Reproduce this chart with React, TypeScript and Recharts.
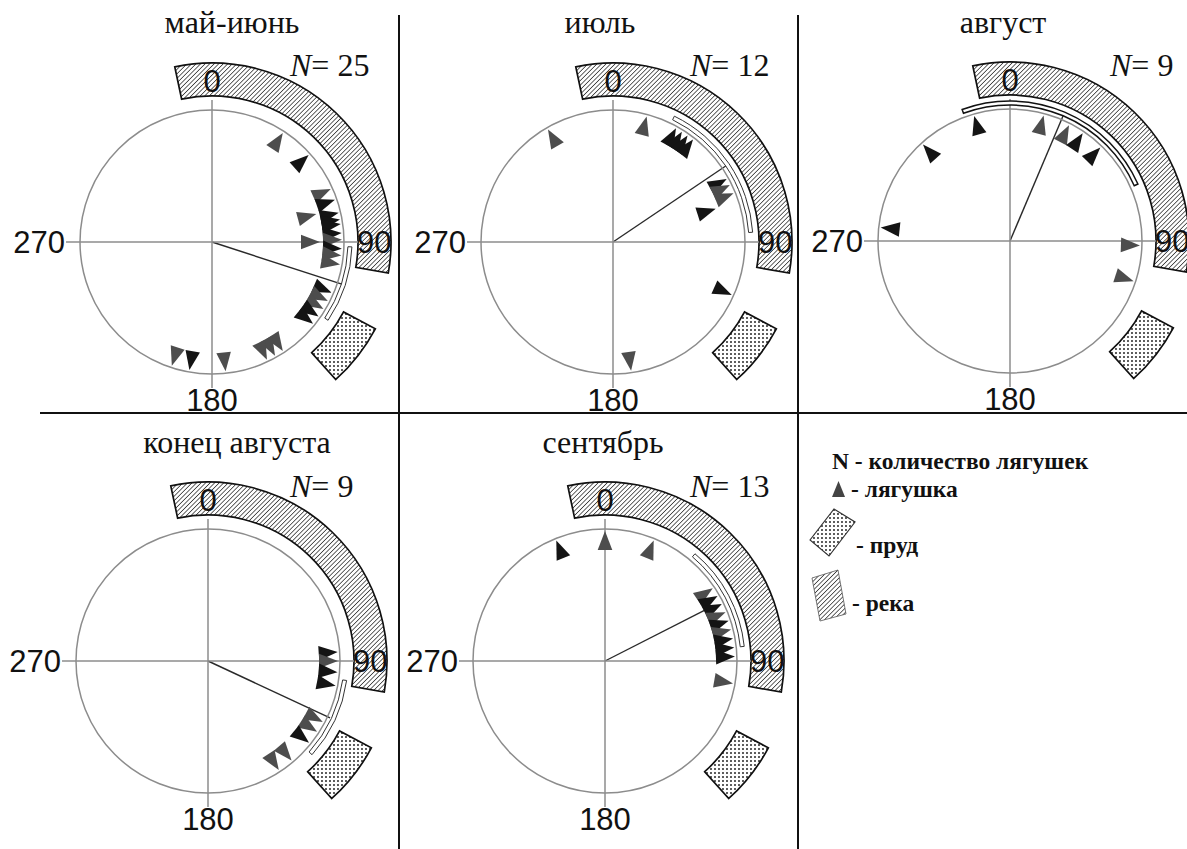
import React from 'react';
import { ScatterChart, Scatter, XAxis, YAxis, ReferenceLine, Sector } from 'recharts';

// ---------- data ----------
const panelTitles = ['май-июнь', 'июль', 'август', 'конец августа', 'сентябрь'];
const frogCounts = [25, 12, 9, 9, 13];
const tickLabels = ['0', '90', '180', '270'];
const tickAngles = [0, 90, 180, 270];

// bearings of frogs (degrees, clockwise from 0), shade g = grey, k = black, row = stacking row
const mayJuneAngles = [33, 48, 66, 71, 75, 77, 80, 82, 86, 89, 90, 93, 96, 100, 113, 117, 121, 125, 129, 147, 151, 155, 174, 190, 198];
const mayJuneShades = ['g', 'k', 'g', 'k', 'g', 'k', 'k', 'k', 'k', 'g', 'g', 'k', 'g', 'g', 'k', 'g', 'g', 'k', 'k', 'g', 'g', 'g', 'g', 'k', 'g'];
const mayJuneRows = [0, 0, 0, 0, 1, 0, 0, 0, 0, 0, 1, 0, 0, 0, 0, 0, 0, 0, 0, 0, 0, 0, 0, 0, 0];

const julyAngles = [330, 15, 29, 32, 35, 38, 61, 64, 68, 72, 114, 172];
const julyShades = ['g', 'g', 'k', 'k', 'k', 'k', 'k', 'g', 'g', 'k', 'k', 'g'];
const julyRows = [0, 0, 0, 0, 0, 0, 0, 0, 0, 1, 0, 0];

const augustAngles = [276, 318, 344, 15, 27, 34, 44, 92, 108];
const augustShades = ['k', 'k', 'k', 'g', 'g', 'k', 'k', 'g', 'g'];
const augustRows = [0, 0, 0, 0, 0, 0, 0, 0, 0];

const lateAugustAngles = [86, 90, 95, 101, 118, 123, 129, 140, 147];
const lateAugustShades = ['k', 'g', 'k', 'k', 'g', 'g', 'k', 'g', 'g'];
const lateAugustRows = [0, 0, 0, 0, 0, 0, 0, 0, 0];

const septemberAngles = [338, 0, 22, 56, 60, 64, 68, 72, 76, 80, 84, 88, 100];
const septemberShades = ['k', 'g', 'g', 'g', 'k', 'k', 'g', 'k', 'g', 'k', 'k', 'k', 'g'];
const septemberRows = [0, 0, 0, 0, 0, 0, 0, 0, 0, 0, 0, 0, 0];

// mean vector direction and length (fraction of circle radius)
const meanAngles = [108, 56, 23, 115, 63];
const meanLengths = [1.04, 1.04, 1.03, 1.02, 0.87];
// confidence interval arcs (degrees)
const ciStart = [92, 26, -20, 98, 40];
const ciEnd = [124, 86, 66, 132, 84];
// river and pond bearings (degrees)
const riverFrom = -12;
const riverTo = 100;
const pondFrom = 118;
const pondTo = 138;

// ---------- layout ----------
const R = 132;
const W = 440;
const H = 420;
const panelCenters = [
  [212, 242],
  [613, 242],
  [1010, 241],
  [208, 661],
  [605, 661],
];
const titleX = [232, 600, 1003, 237, 603];
const nX = [290, 690, 1110, 290, 690];

const rad = (d: number) => (d * Math.PI) / 180;

const frogSets = [
  [mayJuneAngles, mayJuneShades, mayJuneRows],
  [julyAngles, julyShades, julyRows],
  [augustAngles, augustShades, augustRows],
  [lateAugustAngles, lateAugustShades, lateAugustRows],
  [septemberAngles, septemberShades, septemberRows],
] as const;

const toPoints = (angles: readonly number[], shades: readonly string[], rows: readonly number[]) =>
  angles.map((a, i) => ({
    x: R * Math.sin(rad(a)),
    y: R * Math.cos(rad(a)),
    angle: a,
    shade: shades[i],
    row: rows[i],
  }));

const FrogShape = (props: any) => {
  const { cx, cy, payload } = props;
  const inset = payload.row * 22;
  const fill = payload.shade === 'k' ? '#141414' : '#4d4d4d';
  return (
    <path
      transform={`translate(${cx},${cy}) rotate(${payload.angle})`}
      d={`M0,${2 + inset} L7.3,${21 + inset} L-7.3,${21 + inset} Z`}
      fill={fill}
    />
  );
};

const TickShape = (props: any) => {
  const { cx, cy, payload } = props;
  let anchor: 'middle' | 'start' | 'end' = 'middle';
  let x = cx;
  let y = cy;
  if (payload.angle === 0) {
    y = cy - 3;
  } else if (payload.angle === 180) {
    y = cy + 22;
  } else if (payload.angle === 90) {
    anchor = 'start';
    x = cx - 2;
    y = cy + 11;
  } else {
    anchor = 'end';
    y = cy + 11;
  }
  return (
    <text x={x} y={y} textAnchor={anchor} fontFamily="'Liberation Sans', Arial, sans-serif" fontSize={31} fill="#111">
      {payload.label}
    </text>
  );
};

const cmp = (deg: number) => 90 - deg; // compass bearing -> recharts polar angle

function Panel({ idx }: { idx: number }) {
  const [pcx, pcy] = panelCenters[idx];
  const [angles, shades, rows] = frogSets[idx];
  const frogs = toPoints(angles, shades, rows);
  const center = [{ x: 0, y: 0 }];
  const ticks = tickAngles.map((a, i) => ({
    x: 147 * Math.sin(rad(a)),
    y: 147 * Math.cos(rad(a)),
    angle: a,
    label: tickLabels[i],
  }));
  const mLen = meanLengths[idx] * R;
  const mA = rad(meanAngles[idx]);

  const Background = (p: any) => (
    <g>
      <Sector
        cx={p.cx}
        cy={p.cy}
        innerRadius={146}
        outerRadius={179}
        startAngle={cmp(riverFrom)}
        endAngle={cmp(riverTo)}
        fill="url(#riverHatch)"
        stroke="#111"
        strokeWidth={1.7}
      />
      <Sector
        cx={p.cx}
        cy={p.cy}
        innerRadius={149}
        outerRadius={185}
        startAngle={cmp(pondFrom)}
        endAngle={cmp(pondTo)}
        fill="url(#pondDots)"
        stroke="#111"
        strokeWidth={1.7}
      />
      <circle cx={p.cx} cy={p.cy} r={R} fill="none" stroke="#8c8c8c" strokeWidth={1.5} />
      <line x1={p.cx - 146} y1={p.cy} x2={p.cx + 146} y2={p.cy} stroke="#8c8c8c" strokeWidth={1.5} />
      <line x1={p.cx} y1={p.cy - 142} x2={p.cx} y2={p.cy + 146} stroke="#8c8c8c" strokeWidth={1.5} />
      <Sector
        cx={p.cx}
        cy={p.cy}
        innerRadius={136}
        outerRadius={140}
        startAngle={cmp(ciStart[idx])}
        endAngle={cmp(ciEnd[idx])}
        fill="#fff"
        stroke={idx === 2 ? '#111' : '#333'}
        strokeWidth={idx === 2 ? 1.5 : 1}
      />
    </g>
  );

  return (
    <div style={{ position: 'absolute', left: pcx - W / 2, top: pcy - H / 2 }}>
      <ScatterChart width={W} height={H} margin={{ top: 0, right: 0, bottom: 0, left: 0 }}>
        <XAxis type="number" dataKey="x" domain={[-W / 2, W / 2]} hide allowDataOverflow />
        <YAxis type="number" dataKey="y" domain={[-H / 2, H / 2]} hide allowDataOverflow />
        <Scatter data={center} isAnimationActive={false} shape={Background} />
        <ReferenceLine
          segment={[
            { x: 0, y: 0 },
            { x: mLen * Math.sin(mA), y: mLen * Math.cos(mA) },
          ]}
          stroke="#2a2a2a"
          strokeWidth={1.4}
        />
        <Scatter data={frogs} isAnimationActive={false} shape={FrogShape} />
        <Scatter data={ticks} isAnimationActive={false} shape={TickShape} />
      </ScatterChart>
    </div>
  );
}

const serif = "'Liberation Serif', 'Times New Roman', serif";

export default function App() {
  return (
    <div style={{ position: 'absolute', left: 0, top: 0, width: 1187, height: 849, background: '#fff', overflow: 'hidden' }}>
      <svg width={0} height={0} style={{ position: 'absolute' }}>
        <defs>
          <pattern id="riverHatch" width="3.2" height="3.2" patternUnits="userSpaceOnUse" patternTransform="rotate(45)">
            <rect width="3.2" height="3.2" fill="#fff" />
            <line x1="0" y1="0" x2="0" y2="3.2" stroke="#222" strokeWidth="1.4" />
          </pattern>
          <pattern id="pondDots" width="4" height="4" patternUnits="userSpaceOnUse">
            <rect width="4" height="4" fill="#fff" />
            <circle cx="2" cy="2" r="0.95" fill="#1a1a1a" />
          </pattern>
        </defs>
      </svg>
      {panelTitles.map((_, i) => (
        <Panel key={i} idx={i} />
      ))}
      <svg width={1187} height={849} style={{ position: 'absolute', left: 0, top: 0, pointerEvents: 'none' }}>
        <line x1={399} y1={15} x2={399} y2={849} stroke="#111" strokeWidth={2} />
        <line x1={798} y1={15} x2={798} y2={849} stroke="#111" strokeWidth={2} />
        <line x1={40} y1={413} x2={1187} y2={413} stroke="#111" strokeWidth={2} />
        {panelTitles.map((t, i) => (
          <text key={'t' + i} x={titleX[i]} y={i < 3 ? 33 : 453} textAnchor="middle" fontFamily={serif} fontSize={32} fill="#111">
            {t}
          </text>
        ))}
        {frogCounts.map((n, i) => (
          <text key={'n' + i} x={nX[i]} y={i < 3 ? 76 : 497} fontFamily={serif} fontSize={32} fill="#111">
            <tspan fontStyle="italic">N</tspan>= {n}
          </text>
        ))}
        <g fontFamily={serif} fontWeight="bold" fontSize={23.5} fill="#111">
          <text x={832} y={469}>N - количество лягушек</text>
          <path d="M838.5,481 L845,497 L832,497 Z" fill="#444" />
          <text x={851} y={497}>- лягушка</text>
          <path d="M810,540 L834,509 L855,522 L829,556 Z" fill="url(#pondDots)" stroke="#333" strokeWidth={1.2} />
          <text x={856} y={553}>- пруд</text>
          <path d="M812,578 L838,570 L846,614 L820,621 Z" fill="url(#riverHatch)" stroke="#555" strokeWidth={0.8} />
          <text x={852} y={611}>- река</text>
        </g>
      </svg>
    </div>
  );
}
